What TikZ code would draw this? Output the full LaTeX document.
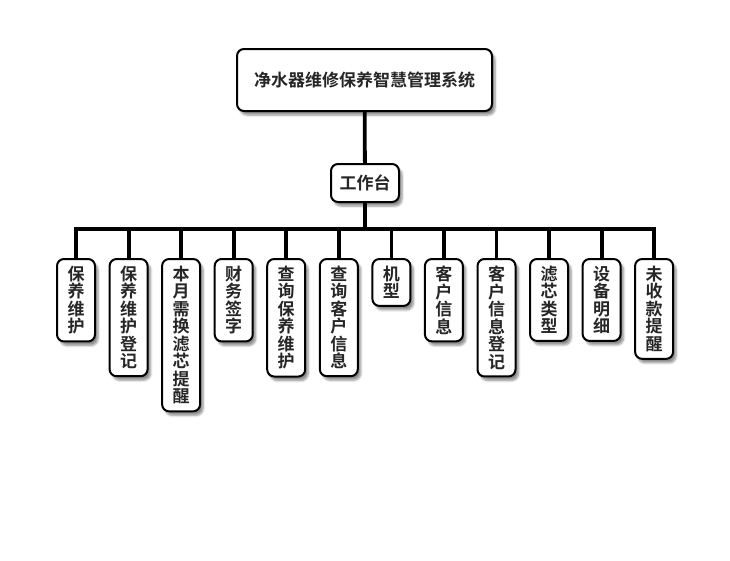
\documentclass[tikz,border=0pt]{standalone}
\usepackage{fontspec}
\setmainfont{Noto Sans CJK SC}[BoldFont={Noto Sans CJK SC Bold}]
\usetikzlibrary{shadows,shadows.blur,positioning}

\begin{document}
\begin{tikzpicture}[x=1pt,y=-1pt,
    box/.style={draw=black, line width=2pt, rounded corners=7pt, fill=white,
        blur shadow={shadow xshift=3pt, shadow yshift=-4pt, shadow blur steps=6, shadow opacity=45},
        font=\bfseries\fontsize{17}{17.5}\selectfont, text=black!85},
    vbox/.style={box, anchor=north, minimum width=38pt, inner xsep=1pt, inner ysep=7pt, align=center},
    conn/.style={line width=3.8pt, line join=miter}]
    \useasboundingbox (0,0) rectangle (730,560);
    \node(sys) at (364.5,80) [box, minimum width=255pt, minimum height=62pt]{净水器维修保养智慧管理系统};
    \node(wb) at (365,183) [box, minimum width=68pt, minimum height=38pt, inner xsep=2pt]{工作台};
    %%%
    \node(c1) at (76,258) [vbox]{保\\养\\维\\护};
    \node(c2) at (128.6,258) [vbox]{保\\养\\维\\护\\登\\记};
    \node(c3) at (181.1,258) [vbox]{本\\月\\需\\换\\滤\\芯\\提\\醒};
    \node(c4) at (233.7,258) [vbox]{财\\务\\签\\字};
    \node(c5) at (286.2,258) [vbox]{查\\询\\保\\养\\维\\护};
    \node(c6) at (338.8,258) [vbox]{查\\询\\客\\户\\信\\息};
    \node(c7) at (391.4,258) [vbox]{机\\型};
    \node(c8) at (443.9,258) [vbox]{客\\户\\信\\息};
    \node(c9) at (496.5,258) [vbox]{客\\户\\信\\息\\登\\记};
    \node(c10) at (549,258) [vbox]{滤\\芯\\类\\型};
    \node(c11) at (601.6,258) [vbox]{设\\备\\明\\细};
    \node(c12) at (654.1,258) [vbox]{未\\收\\款\\提\\醒};
    %%%
    \coordinate (bus) at (365,229);
    \draw[conn] (sys) -- (wb);
    \draw[conn] (wb) -- (bus);
    \draw[conn] (bus) -| (c1);
    \draw[conn] (bus) -| (c2);
    \draw[conn] (bus) -| (c3);
    \draw[conn] (bus) -| (c4);
    \draw[conn] (bus) -| (c5);
    \draw[conn] (bus) -| (c6);
    \draw[conn] (bus) -| (c7);
    \draw[conn] (bus) -| (c8);
    \draw[conn] (bus) -| (c9);
    \draw[conn] (bus) -| (c10);
    \draw[conn] (bus) -| (c11);
    \draw[conn] (bus) -| (c12);
\end{tikzpicture}
\end{document}
